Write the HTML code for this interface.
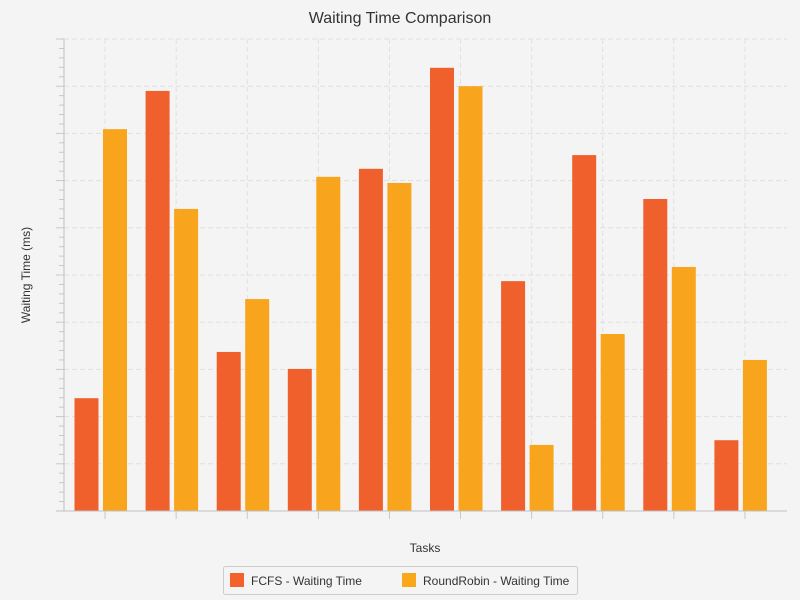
<!DOCTYPE html>
<html><head><meta charset="utf-8"><style>
body{margin:0;background:#f4f4f4;font-family:"Liberation Sans",sans-serif;}
svg{display:block}
</style></head><body>
<svg width="800" height="600">
<rect width="800" height="600" fill="#f4f4f4"/>
<text x="400" y="23" text-anchor="middle" font-size="16" fill="#333">Waiting Time Comparison</text>
<g id="grid"></g>
<g id="bars"></g>
<g id="axes"></g>
<text x="425" y="552" text-anchor="middle" font-size="12" fill="#333">Tasks</text>
<text transform="translate(30,275) rotate(-90)" text-anchor="middle" font-size="12" fill="#333">Waiting Time (ms)</text>
<g>
<rect x="223.5" y="566.5" width="354" height="28" fill="#f4f4f4" stroke="#ccc" rx="2"/>
<g><rect x="230" y="573" width="14" height="14" fill="#f3622d"/><text x="251" y="585" font-size="12" fill="#333">FCFS - Waiting Time</text></g>
<g><rect x="402" y="573" width="14" height="14" fill="#fba71b"/><text x="423" y="585" font-size="12" fill="#333">RoundRobin - Waiting Time</text></g>
</g>
</svg>
<script>
const categories=["T1","T2","T3","T4","T5","T6","T7","T8","T9","T10"];
const fcfs=[23.9,89.0,33.7,30.1,72.5,93.9,48.7,75.4,66.1,15.0];
const rr=[80.9,64.0,44.9,70.8,69.5,90.0,14.0,37.5,51.7,32.0];
const yMax=100, yStep=10;
const NS="http://www.w3.org/2000/svg";
const L=64,R=787,T=39,B=511,catL=69.5,catW=71.1;
const y=v=>B-(v/yMax)*(B-T);
const xc=i=>catL+i*catW;
function mk(tag,attrs,parent){const e=document.createElementNS(NS,tag);for(const k in attrs)e.setAttribute(k,attrs[k]);parent.appendChild(e);return e;}
const grid=document.getElementById('grid'),bars=document.getElementById('bars'),axes=document.getElementById('axes');
for(let v=yStep;v<=yMax;v+=yStep){const g=mk('line',{x1:L,x2:R,y1:y(v),y2:y(v),stroke:'#e0e0e0','stroke-dasharray':'5,3'},grid);

}
categories.forEach((c,i)=>{const cx=xc(i)+catW/2;const g=mk('line',{x1:cx,x2:cx,y1:T,y2:B,stroke:'#e0e0e0','stroke-dasharray':'5,3'},grid);


const t=mk('line',{x1:cx,x2:cx,y1:B,y2:B+8,stroke:'#c8c8c8'},axes);

});
categories.forEach((c,i)=>{
const a=mk('rect',{x:xc(i)+5,y:y(fcfs[i]),width:24,height:B-y(fcfs[i]),fill:'#f0602c'},bars);


const b=mk('rect',{x:xc(i)+33.5,y:y(rr[i]),width:24,height:B-y(rr[i]),fill:'#f8a41c'},bars);

});
for(let v=0;v<=yMax+0.001;v+=yStep/5){const major=Math.abs(v%yStep)<0.01||Math.abs(v%yStep-yStep)<0.01;
const t=mk('line',{x1:major?L-8:L-5,x2:L,y1:y(v),y2:y(v),stroke:'#c8c8c8'},axes);

}
const ya=mk('line',{x1:L,x2:L,y1:T,y2:B,stroke:'#c0c0c0'},axes);


const xa=mk('line',{x1:L-8,x2:R,y1:B,y2:B,stroke:'#c0c0c0'},axes);


</script>
</body></html>
